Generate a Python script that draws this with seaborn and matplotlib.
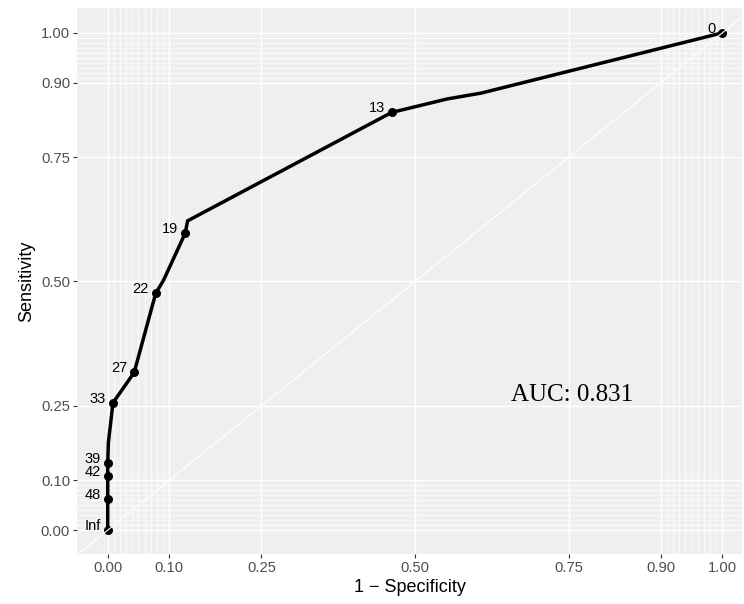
import numpy as np
import pandas as pd
import matplotlib
matplotlib.use("Agg")
import matplotlib.pyplot as plt
import seaborn as sns

# ROC curve vertices (1 - specificity, sensitivity)
fpr = [0.0, 0.0, 0.0, 0.0, 0.001, 0.0085, 0.043, 0.078, 0.091, 0.126, 0.130, 0.462, 0.552, 0.608, 1.0]
tpr = [0.0, 0.062, 0.109, 0.135, 0.175, 0.256, 0.317, 0.476, 0.503, 0.597, 0.622, 0.840, 0.867, 0.879, 1.0]

# labelled cutoff points
cut_labels = ["Inf", "48", "42", "39", "33", "27", "22", "19", "13", "0"]
cut_fpr = [0.0, 0.0, 0.0, 0.0, 0.0085, 0.043, 0.078, 0.126, 0.462, 1.0]
cut_tpr = [0.0, 0.062, 0.109, 0.135, 0.256, 0.317, 0.476, 0.597, 0.840, 1.0]

major_breaks = [0.0, 0.10, 0.25, 0.50, 0.75, 0.90, 1.00]
major_labels = ["0.00", "0.10", "0.25", "0.50", "0.75", "0.90", "1.00"]
auc_text = "AUC: 0.831"

curve = pd.DataFrame({"fpr": fpr, "tpr": tpr})
cuts = pd.DataFrame({"fpr": cut_fpr, "tpr": cut_tpr, "label": cut_labels})

sns.set_theme(style="darkgrid")
plt.rcParams["font.family"] = ["Liberation Sans", "DejaVu Sans"]

fig = plt.figure(figsize=(7.44, 6.04), dpi=100)
ax = fig.add_axes([77 / 744, 50 / 604, (742 - 77) / 744, (554 - 8) / 604])
ax.set_facecolor("#EFEFEF")

xlim = (-0.05, 1.032)
ylim = (-0.048, 1.050)
ax.set_xlim(*xlim)
ax.set_ylim(*ylim)

minor_breaks = sorted(set(np.round(np.concatenate([np.arange(0, 0.1001, 0.01),
                                                   np.arange(0.9, 1.0001, 0.01)]), 2)))
ax.set_xticks(major_breaks)
ax.set_xticklabels(major_labels)
ax.set_yticks(major_breaks)
ax.set_yticklabels(major_labels)
ax.set_xticks(minor_breaks, minor=True)
ax.set_yticks(minor_breaks, minor=True)
ax.grid(False)
ax.grid(which="major", color="white", linewidth=1.0)
ax.grid(which="minor", color="white", linewidth=0.5)
ax.set_axisbelow(True)
for s in ax.spines.values():
    s.set_visible(False)

ax.tick_params(which="major", length=3, width=0.8, color="#333333",
               labelsize=10.6, labelcolor="#4D4D4D", pad=2, bottom=True, left=True)
ax.tick_params(which="minor", length=0)

sns.lineplot(data=curve, x="fpr", y="tpr", sort=False, estimator=None,
             color="black", linewidth=2.5, ax=ax, zorder=3)
ax.lines[-1].set_solid_capstyle("butt")
ax.lines[-1].set_solid_joinstyle("round")
sns.scatterplot(data=cuts, x="fpr", y="tpr", color="black", s=42,
                edgecolor="black", linewidth=0, ax=ax, zorder=4)

# diagonal reference line drawn on top
ax.plot([-0.1, 1.1], [-0.1, 1.1], color="white", linewidth=0.8, zorder=5)

for _, r in cuts.iterrows():
    ax.annotate(r["label"], (r["fpr"], r["tpr"]), xytext=(-5, 0),
                textcoords="offset points", ha="right", va="baseline",
                fontsize=10.5, color="black", zorder=6)

ax.text(0.755, 0.272, auc_text, ha="center", va="center",
        fontsize=18, family=["Liberation Serif", "DejaVu Serif"], color="black", zorder=6)

ax.set_xlabel("1 \u2212 Specificity", fontsize=13, color="black", labelpad=3)
ax.set_ylabel("Sensitivity", fontsize=13, color="black", labelpad=4)

fig.savefig("out.png", dpi=100)
